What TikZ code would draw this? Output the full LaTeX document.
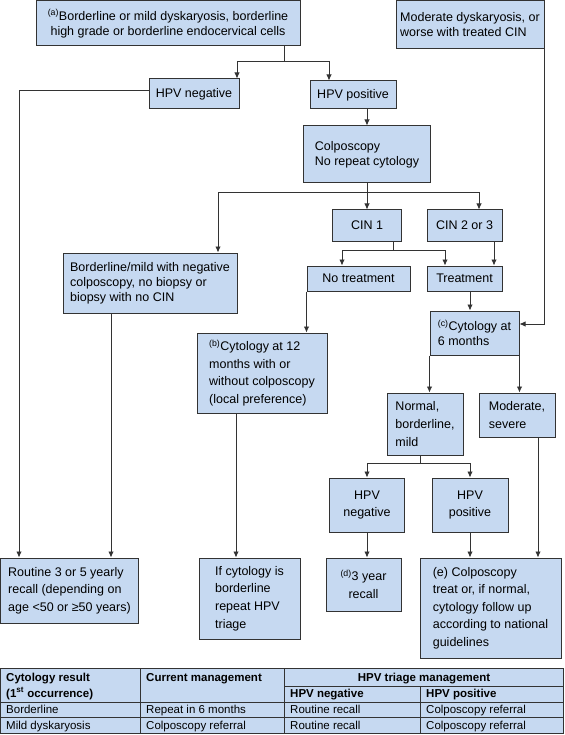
\documentclass[tikz,border=0pt]{standalone}
\usepackage{fontspec}
\setmainfont{Liberation Sans}
\usepackage{tikz}
\usepackage{xcolor}
\definecolor{flowFill}{HTML}{C6D9F1}
\definecolor{flowLine}{HTML}{333333}
\usetikzlibrary{arrows.meta}
\tikzset{
  flowBox/.style={draw=flowLine, fill=flowFill, line width=1pt, inner sep=0pt, font=\fontsize{12.5}{15}\selectfont},
  flowLoose/.style={font=\fontsize{12.5}{17.6}\selectfont},
  flowLink/.style={draw=flowLine, line width=0.85pt},
  flowArrow/.style={flowLink, -{Latex[length=6pt,width=5.5pt]}},
  tableRule/.style={draw=flowLine, line width=0.8pt},
  tableText/.style={inner sep=0pt, anchor=base west, font=\fontsize{11.5}{13}\selectfont},
}

\begin{document}
\begin{tikzpicture}
  \useasboundingbox (0pt,0pt) rectangle (564pt,-735pt);
  \node[flowBox, align=center, minimum width=264pt, minimum height=45pt] (firstResult) at (168pt,-23.5pt) {\textsuperscript{(a)}Borderline or mild dyskaryosis, borderline\\high grade or borderline endocervical cells};
  \node[flowBox, align=left, minimum width=148pt, minimum height=48pt] (modDysk) at (470pt,-25pt) {Moderate dyskaryosis, or\\worse with treated CIN};
  \node[flowBox, minimum width=90pt, minimum height=30pt] (hpvNeg) at (194pt,-94pt) {HPV negative};
  \node[flowBox, minimum width=86pt, minimum height=28pt] (hpvPos) at (353pt,-95pt) {HPV positive};
  \node[flowBox, align=left, minimum width=127pt, minimum height=57pt] (colpoNoRep) at (367pt,-154.5pt) {Colposcopy\\No repeat cytology};
  \node[flowBox, minimum width=69pt, minimum height=31pt] (cinOne) at (367pt,-225.5pt) {CIN 1};
  \node[flowBox, minimum width=75pt, minimum height=31pt] (cinTwo) at (464.5pt,-225.5pt) {CIN 2 or 3};
  \node[flowBox, align=left, minimum width=174pt, minimum height=60pt] (negColpo) at (150pt,-283pt) {Borderline/mild with negative\\colposcopy, no biopsy or\\biopsy with no CIN};
  \node[flowBox, minimum width=103pt, minimum height=25pt] (noTreat) at (358.5pt,-278.5pt) {No treatment};
  \node[flowBox, minimum width=75pt, minimum height=25pt] (treat) at (464.5pt,-278.5pt) {Treatment};
  \node[flowBox, flowLoose, align=left, minimum width=130pt, minimum height=80pt] (cytTwelve) at (262pt,-373pt) {\textsuperscript{(b)}Cytology at 12\\months with or\\without colposcopy\\(local preference)};
  \node[flowBox, align=left, minimum width=89pt, minimum height=44pt] (cytSix) at (474.5pt,-333pt) {\textsuperscript{(c)}Cytology at\\6 months};
  \node[flowBox, flowLoose, align=left, minimum width=76pt, minimum height=62pt] (normalMild) at (425pt,-424pt) {Normal,\\borderline,\\mild};
  \node[flowBox, flowLoose, align=left, minimum width=76pt, minimum height=44pt] (modSevere) at (517pt,-415pt) {Moderate,\\severe};
  \node[flowBox, flowLoose, align=center, minimum width=75pt, minimum height=54pt] (hpvNegTwo) at (367pt,-505pt) {HPV\\negative};
  \node[flowBox, flowLoose, align=center, minimum width=76pt, minimum height=54pt] (hpvPosTwo) at (470pt,-505pt) {HPV\\positive};
  \node[flowBox, flowLoose, align=center, minimum width=75pt, minimum height=53pt] (yearRecall) at (363.5pt,-584.5pt) {\textsuperscript{(d)}3 year\\recall};
  \node[flowBox, flowLoose, align=left, minimum width=141pt, minimum height=100pt] (colpoNational) at (490.5pt,-608pt) {(e) Colposcopy\\treat or, if normal,\\cytology follow up\\according to national\\guidelines};
  \node[flowBox, flowLoose, align=left, minimum width=138pt, minimum height=65pt] (routine) at (69.5pt,-590.5pt) {Routine 3 or 5 yearly\\recall (depending on\\age <50 or ≥50 years)};
  \node[flowBox, flowLoose, align=left, minimum width=101pt, minimum height=81pt] (repeatTriage) at (249.5pt,-598.5pt) {If cytology is\\borderline\\repeat HPV\\triage};

  \coordinate (splitHpv) at (284pt,-61pt);
  \draw[flowLink] (firstResult.south -| splitHpv) -- (splitHpv);
  \draw[flowArrow] (splitHpv) -| ([xshift=43pt]hpvNeg.north);
  \draw[flowArrow] (splitHpv) -| ([xshift=-24pt]hpvPos.north);
  \draw[flowArrow] ([yshift=4pt]hpvNeg.west) -| ([xshift=-50.5pt]routine.north);
  \draw[flowArrow] (hpvPos.south -| colpoNoRep.north) -- (colpoNoRep.north);
  \coordinate (splitColpo) at (367pt,-192pt);
  \draw[flowLink] (colpoNoRep.south) -- (splitColpo);
  \draw[flowArrow] (splitColpo) -| ([xshift=68pt]negColpo.north);
  \draw[flowArrow] (splitColpo) -- (cinOne.north);
  \draw[flowArrow] (splitColpo) -| ([xshift=14.5pt]cinTwo.north);
  \coordinate (splitCin) at (393pt,-250pt);
  \draw[flowLink] (cinOne.south -| splitCin) -- (splitCin);
  \draw[flowArrow] (splitCin) -| ([xshift=-16.5pt]noTreat.north);
  \draw[flowArrow] (splitCin) -| ([xshift=-19.5pt]treat.north);
  \draw[flowArrow] ([xshift=29.5pt]cinTwo.south) -- ([xshift=29.5pt]treat.north);
  \draw[flowArrow] ([xshift=-39pt]negColpo.south) -- ([xshift=-39pt]negColpo.south |- routine.north);
  \draw[flowArrow] (noTreat.south west) -- (noTreat.south west |- cytTwelve.north);
  \draw[flowArrow] ([xshift=5.5pt]treat.south) -- ([xshift=5.5pt]treat.south |- cytSix.north);
  \draw[flowArrow] (modDysk.south east) |- ([yshift=9pt]cytSix.east);
  \draw[flowArrow] (cytSix.south west) -- (cytSix.south west |- normalMild.north);
  \draw[flowArrow] (cytSix.south east) -- (cytSix.south east |- modSevere.north);
  \coordinate (splitNormal) at (420pt,-463pt);
  \draw[flowLink] (normalMild.south -| splitNormal) -- (splitNormal);
  \draw[flowArrow] (splitNormal) -| (hpvNegTwo.north);
  \draw[flowArrow] (splitNormal) -| (hpvPosTwo.north);
  \draw[flowArrow] (hpvNegTwo.south) -- (hpvNegTwo.south |- yearRecall.north);
  \draw[flowArrow] (hpvPosTwo.south) -- (hpvPosTwo.south |- colpoNational.north);
  \draw[flowArrow] ([xshift=21pt]modSevere.south) -- ([xshift=21pt]modSevere.south |- colpoNational.north);
  \draw[flowArrow] ([xshift=-26pt]cytTwelve.south) -- ([xshift=-26pt]cytTwelve.south |- repeatTriage.north);

  \filldraw[fill=flowFill, draw=none] (0pt,-668pt) rectangle (564pt,-733.5pt);
  \draw[tableRule] (0pt,-668pt) -- (564pt,-668pt);
  \draw[tableRule] (284pt,-686pt) -- (564pt,-686pt);
  \draw[tableRule] (0pt,-702pt) -- (564pt,-702pt);
  \draw[tableRule] (0pt,-717.5pt) -- (564pt,-717.5pt);
  \draw[tableRule] (0pt,-733.5pt) -- (564pt,-733.5pt);
  \draw[tableRule] (0.4pt,-668pt) -- (0.4pt,-733.5pt);
  \draw[tableRule] (140pt,-668pt) -- (140pt,-733.5pt);
  \draw[tableRule] (284pt,-668pt) -- (284pt,-733.5pt);
  \draw[tableRule] (420pt,-686pt) -- (420pt,-733.5pt);
  \draw[tableRule] (563.6pt,-668pt) -- (563.6pt,-733.5pt);
  \node[tableText] (headCytology) at (6pt,-681pt) {\bfseries Cytology result};
  \node[tableText] (headOccurrence) at (6pt,-697pt) {\bfseries (1\textsuperscript{st} occurrence)};
  \node[tableText] (headCurrent) at (146pt,-681pt) {\bfseries Current management};
  \node[tableText, anchor=base] (headTriage) at (424pt,-681pt) {\bfseries HPV triage management};
  \node[tableText] (headNegative) at (290pt,-697pt) {\bfseries HPV negative};
  \node[tableText] (headPositive) at (426pt,-697pt) {\bfseries HPV positive};
  \node[tableText] (rowBorderline) at (6pt,-713.5pt) {Borderline};
  \node[tableText] (rowBorderlineCur) at (146pt,-713.5pt) {Repeat in 6 months};
  \node[tableText] (rowBorderlineNeg) at (290pt,-713.5pt) {Routine recall};
  \node[tableText] (rowBorderlinePos) at (426pt,-713.5pt) {Colposcopy referral};
  \node[tableText] (rowMild) at (6pt,-729pt) {Mild dyskaryosis};
  \node[tableText] (rowMildCur) at (146pt,-729pt) {Colposcopy referral};
  \node[tableText] (rowMildNeg) at (290pt,-729pt) {Routine recall};
  \node[tableText] (rowMildPos) at (426pt,-729pt) {Colposcopy referral};
\end{tikzpicture}
\end{document}
